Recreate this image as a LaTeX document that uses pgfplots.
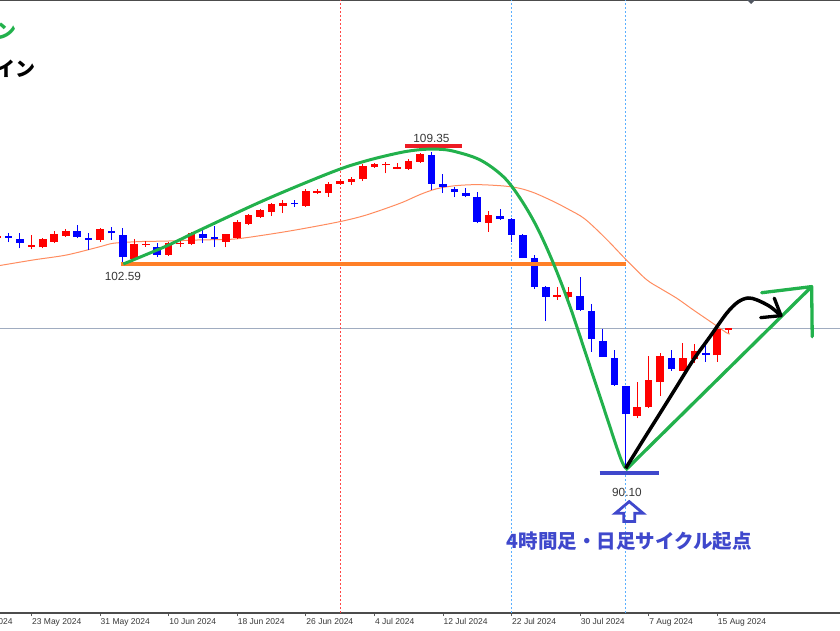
\documentclass[border=0pt]{standalone}
\usepackage{pgfplots}
\pgfplotsset{compat=1.18}
\usepackage{pgfplotstable}
\usepackage{fontspec}
\setmainfont{Liberation Sans}
\newfontfamily\jp{Noto Sans CJK JP}
\definecolor{cup}{RGB}{255,0,0}
\definecolor{cdn}{RGB}{0,0,255}
\definecolor{pgreen}{RGB}{34,177,76}
\definecolor{porange}{RGB}{255,127,39}
\definecolor{pred}{RGB}{237,28,36}
\definecolor{pindigo}{RGB}{63,72,204}
\definecolor{maclr}{RGB}{255,140,95}
\definecolor{bidclr}{RGB}{160,172,192}
\definecolor{vblue}{RGB}{90,175,255}
\definecolor{vred}{RGB}{255,70,70}
\definecolor{txtgray}{RGB}{55,55,55}

\pgfplotstableread{
i O H L C
-9 104.12 104.20 104.08 104.16
-6 103.58 104.30 103.43 103.62
-5 103.55 104.12 103.49 104.04
-4 103.90 104.57 103.80 104.36
-3 104.26 104.65 104.20 104.52
0 104.00 104.71 103.90 104.69
3 102.85 104.06 102.79 103.76
4 103.68 103.96 103.60 103.72
6 103.09 103.90 103.03 103.80
7 103.74 104.00 103.55 103.78
8 103.74 104.48 103.68 104.40
11 103.90 104.36 103.55 104.34
12 104.10 105.21 104.04 105.09
13 104.99 105.58 104.91 105.49
14 105.41 105.88 105.35 105.80
15 105.72 106.26 105.45 106.16
16 106.08 106.42 105.62 106.26
18 106.06 107.07 106.02 106.99
19 106.87 107.09 106.77 106.91
20 106.83 107.49 106.63 107.37
21 107.39 107.68 107.33 107.58
22 107.53 107.80 107.33 107.72
23 107.68 108.59 107.60 108.50
24 108.44 108.69 108.36 108.59
25 108.52 108.73 108.04 108.56
26 108.30 108.65 108.28 108.40
27 108.30 108.89 108.26 108.81
28 108.73 109.25 108.69 109.19
34 105.05 105.78 104.50 105.53
40 100.55 101.17 100.36 100.59
41 100.57 101.17 100.32 100.83
47 93.35 95.37 93.19 93.90
48 93.86 96.97 93.80 95.51
49 95.37 97.13 94.54 96.97
51 96.08 97.74 96.08 96.83
52 96.77 97.70 96.57 97.29
54 97.00 98.69 96.63 98.61
55 98.54 98.65 98.34 98.60
}\up

\pgfplotstableread{
i O H L C
-8 104.16 104.42 103.87 104.12
-7 104.04 104.44 103.49 103.80
-2 104.54 104.91 104.10 104.20
-1 104.14 104.40 103.39 104.00
1 104.54 104.81 104.00 104.40
2 104.28 104.71 102.59 102.95
5 103.60 103.80 102.99 103.09
9 104.36 104.71 103.80 104.14
10 104.20 104.85 103.60 104.08
17 106.26 106.42 106.02 106.16
29 109.15 109.35 107.03 107.39
30 107.37 107.98 106.83 107.19
31 107.09 107.23 106.59 106.89
32 106.87 107.17 106.59 106.69
33 106.63 106.89 105.01 105.11
35 105.47 105.88 105.21 105.27
36 105.27 105.31 103.90 104.30
37 104.30 104.36 102.89 102.89
38 102.89 103.09 101.03 101.17
39 101.17 101.23 99.09 100.57
42 100.63 101.78 99.72 99.76
43 99.72 100.10 97.23 98.00
44 97.86 98.61 96.89 96.93
45 96.83 97.33 95.17 95.21
46 95.17 95.17 90.10 93.43
50 96.83 97.33 96.08 96.16
53 97.13 97.78 96.63 97.03
}\down

\pgfplotstableread{
i p
-8.75 102.45
-5.8 102.79
-2.9 103.09
0 103.59
1.2 103.80
3.5 103.90
5.8 103.93
8.75 104.00
11.7 104.05
14.6 104.32
17.5 104.65
21 105.11
23.3 105.51
26.25 106.22
28 106.75
29.4 107.09
31 107.28
33 107.35
35.3 107.27
36.7 107.13
38 106.85
39.7 106.32
41 105.85
42.4 105.28
44.2 104.12
46.1 102.75
47.8 101.60
49 101.07
50.45 100.47
51.9 99.76
53.4 99.05
54.8 98.38
55.1 98.30
}\ma

\pgfplotstableread{
i p
2.04 102.54
5.84 103.64
8.75 104.60
14.58 106.47
20.41 108.14
23.33 108.80
26.25 109.29
28.0 109.47
29.5 109.50
30.91 109.38
33.25 108.85
35.29 107.83
36.75 106.53
38.21 104.80
39.66 102.59
41.12 99.96
42.58 96.93
44.03 93.90
45.49 90.87
45.99 90.16
}\cycle

\pgfplotstableread{
i p
45.99 90.16
47.53 91.88
49.0 93.50
50.45 95.11
51.91 96.73
53.37 98.14
54.83 99.56
55.82 100.24
56.69 100.48
57.48 100.36
58.62 99.96
59.58 99.41
}\blk

\begin{document}
\begin{tikzpicture}
\useasboundingbox (0,-17pt) rectangle (840pt,613pt);
\clip (0,-17pt) rectangle (840pt,613pt);
\begin{axis}[
  at={(0,0)}, anchor=south west,
  scale only axis, width=840pt, height=613pt,
  xmin=-8.749, xmax=64.74, ymin=81.39, ymax=118.54,
  clip=false,
  axis line style={draw=none},
  ytick=\empty,
  xtick={-6,0,6,12,18,24,30,36,42,48,54},
  xticklabels={23 May 2024,31 May 2024,10 Jun 2024,18 Jun 2024,26 Jun 2024,4 Jul 2024,12 Jul 2024,22 Jul 2024,30 Jul 2024,7 Aug 2024,15 Aug 2024},
  xtick pos=left, xtick align=outside,
  major tick length=3pt,
  xtick style={draw=black!65, line width=0.8pt},
  xticklabel style={anchor=north west, inner sep=0pt, xshift=0.5pt, yshift=-2.5pt,
    font=\fontsize{8.5}{10}\selectfont, text=txtgray},
]
% frame lines
\draw[black!70, line width=1.2pt] (rel axis cs:0,0) -- (rel axis cs:1,0);
\draw[black!70, line width=1.6pt] (rel axis cs:0,1) -- (rel axis cs:1,1);
% bid line
\addplot[bidclr, line width=0.9pt, forget plot] coordinates {(-8.75,98.65) (64.74,98.65)};
% vertical dotted lines
\addplot[vred, line width=0.9pt, dash pattern=on 2pt off 2pt, forget plot] coordinates {(21,81.39) (21,118.54)};
\addplot[vblue, line width=0.9pt, dash pattern=on 2pt off 2pt, forget plot] coordinates {(36,81.39) (36,118.54)};
\addplot[vblue, line width=0.9pt, dash pattern=on 2pt off 2pt, forget plot] coordinates {(46,81.39) (46,118.54)};
% moving average
\addplot[maclr, line width=1pt, smooth, forget plot] table[x=i, y=p] {\ma};
% wicks
\addplot[draw=none, no markers, forget plot,
  error bars/.cd, y dir=plus, y explicit, error mark=none,
  error bar style={line width=1pt, draw=cup}]
  table[x=i, y=L, y error plus expr=\thisrow{H}-\thisrow{L}] {\up};
\addplot[draw=none, no markers, forget plot,
  error bars/.cd, y dir=plus, y explicit, error mark=none,
  error bar style={line width=1pt, draw=cdn}]
  table[x=i, y=L, y error plus expr=\thisrow{H}-\thisrow{L}] {\down};
% bodies
\addplot[draw=none, no markers, forget plot,
  error bars/.cd, y dir=plus, y explicit, error mark=none,
  error bar style={line width=7.6pt, draw=cup}]
  table[x=i, y expr={min(\thisrow{O},\thisrow{C})}, y error plus expr={max(abs(\thisrow{C}-\thisrow{O}),0.1)}] {\up};
\addplot[draw=none, no markers, forget plot,
  error bars/.cd, y dir=plus, y explicit, error mark=none,
  error bar style={line width=7.6pt, draw=cdn}]
  table[x=i, y expr={min(\thisrow{O},\thisrow{C})}, y error plus expr={max(abs(\thisrow{C}-\thisrow{O}),0.1)}] {\down};
% horizontal marker lines
\addplot[porange, line width=4pt, forget plot] coordinates {(1.8,102.52) (46,102.52)};
\addplot[pred, line width=4pt, forget plot] coordinates {(26.7,109.71) (31.7,109.71)};
\addplot[pindigo, line width=4pt, forget plot] coordinates {(43.7,89.86) (48.9,89.86)};
% green cycle curve
\addplot[pgreen, line width=3pt, smooth, tension=0.55, forget plot] table[x=i, y=p] {\cycle};
% green straight arrow
\addplot[pgreen, line width=3.3pt, forget plot] coordinates {(45.99,90.06) (62.26,101.17)};
\addplot[pgreen, line width=3.3pt, line cap=round, line join=round, forget plot] coordinates {(57.89,100.80) (62.26,101.17) (62.31,98.14)};
% black curve arrow
\addplot[black, line width=3.5pt, smooth, tension=0.55, forget plot] table[x=i, y=p] {\blk};
\addplot[black, line width=3.3pt, line cap=round, line join=round, forget plot] coordinates {(57.80,99.29) (59.58,99.41) (58.99,100.47)};
% labels
\node[font=\fontsize{11.8}{13}\selectfont, text=txtgray, inner sep=0pt] at (axis cs:29,110.12) {109.35};
\node[font=\fontsize{11.8}{13}\selectfont, text=txtgray, inner sep=0pt] at (axis cs:2,101.76) {102.59};
\node[font=\fontsize{11.8}{13}\selectfont, text=txtgray, inner sep=0pt] at (axis cs:46.1,88.70) {90.10};
% up arrow outline
\draw[pindigo, line width=2.8pt, line join=miter] (axis cs:45.82,86.93) -- (axis cs:45.82,87.43) -- (axis cs:45.08,87.43) -- (axis cs:46.3,88.14) -- (axis cs:47.52,87.43) -- (axis cs:46.78,87.43) -- (axis cs:46.78,86.93) -- cycle;
\node[font=\jp\bfseries\fontsize{19.5}{22}\selectfont, text=pindigo, inner sep=0pt] at (axis cs:46.3,85.73) {4時間足・日足サイクル起点};
% cropped texts top left
\node[anchor=east, font=\jp\bfseries\fontsize{20}{22}\selectfont, text=pgreen, inner sep=0pt] at (axis cs:-7.26,116.67) {ライン};
\node[anchor=east, font=\jp\bfseries\fontsize{20}{22}\selectfont, text=black, inner sep=0pt] at (axis cs:-5.6,114.36) {ライン};
% partially visible first date label
\node[anchor=north west, inner sep=0pt, font=\fontsize{8.5}{10}\selectfont, text=txtgray] at ([xshift=0.5pt, yshift=-5.5pt]axis cs:-12,81.39) {15 May 2024};
% top marker
\fill[black!50!bidclr] (axis cs:56.6,118.54) -- (axis cs:57.33,118.54) -- (axis cs:56.96,118.30) -- cycle;
\end{axis}
\end{tikzpicture}
\end{document}
